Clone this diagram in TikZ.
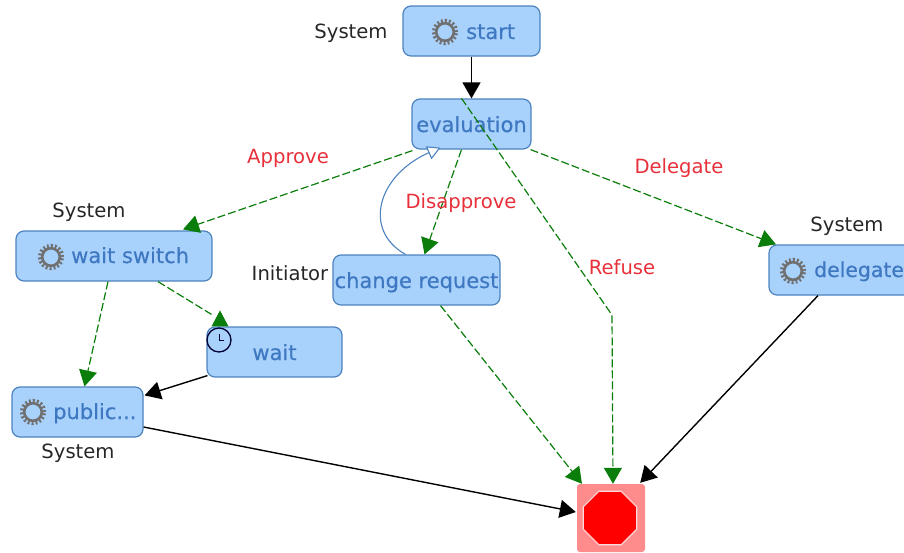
\documentclass[tikz,border=0pt]{standalone}
\usepackage{fontspec}
\setmainfont{DejaVu Sans}
\newfontfamily\boxfont[FakeBold=0.4]{DejaVu Sans}
\usetikzlibrary{arrows.meta,calc,shapes.geometric}
\definecolor{boxfill}{HTML}{A8D1FB}
\definecolor{boxline}{HTML}{4C83C0}
\definecolor{boxtext}{HTML}{3F78C2}
\definecolor{edgegreen}{HTML}{0A7D0A}
\definecolor{labred}{HTML}{E8303A}
\definecolor{gearcol}{HTML}{707070}
\tikzset{
  task/.style={draw=boxline,line width=1.2pt,fill=boxfill,rounded corners=8pt,minimum height=50pt,inner sep=0pt,text=boxtext,text height=20pt,text depth=4pt,font=\boxfont\fontsize{21}{23}\selectfont},
  tasktext/.style={inner sep=0pt,anchor=west,text=boxtext,text height=20pt,text depth=4pt,font=\boxfont\fontsize{21}{23}\selectfont},
  lab/.style={inner sep=0pt,text=black!85,font=\fontsize{19.6}{21}\selectfont},
  redlab/.style={inner sep=0pt,text=labred,font=\fontsize{19.6}{21}\selectfont},
  flow/.style={draw=black,line width=1.4pt,-{Triangle[length=16pt,width=18pt]}},
  cond/.style={draw=edgegreen,line width=1.2pt,dash pattern=on 8pt off 3pt,-{Triangle[length=16pt,width=18pt,fill=edgegreen]}},
  condplain/.style={draw=edgegreen,line width=1.2pt,dash pattern=on 8pt off 3pt},
  gear/.pic={
    \draw[gearcol,line width=3.6pt,dash pattern=on 1.9pt off 2.1pt] (0,0) circle (11.4pt);
    \draw[gearcol,line width=2.6pt,fill=boxfill] (0,0) circle (8.8pt);
  }
}
\begin{document}
\begin{tikzpicture}[x=1pt,y=-1pt]
\useasboundingbox (0,0) rectangle (904,552);
\node[task,minimum width=137pt] (start) at (471.5,31) {};
\node[task,minimum width=119pt] (eval) at (471.5,124) {evaluation};
\node[task,minimum width=196pt] (switch) at (114,256) {};
\node[task,minimum width=167pt] (change) at (416.5,280) {change request};
\node[task,minimum width=150pt] (delegate) at (844,270) {};
\node[task,minimum width=135pt] (wait) at (274.5,352) {wait};
\node[task,minimum width=131pt] (public) at (77.5,412) {};

\pic at (445,32) {gear};
\node[tasktext] (tstart) at (466,31) {start};
\pic at (51,257) {gear};
\node[tasktext] (tswitch) at (71,255) {wait switch};
\pic at (793,271) {gear};
\node[tasktext,font=\boxfont\fontsize{20.4}{23}\selectfont] (tdelegate) at (814,269) {delegate};
\pic at (33,412) {gear};
\node[tasktext] (tpublic) at (53,411) {public...};

\node[lab] (l1) at (351,33) {System};
\node[lab] (l2) at (89,212) {System};
\node[lab] (l3) at (847,226) {System};
\node[lab] (l4) at (290,273) {Initiator};
\node[lab] (l5) at (78,453) {System};

% stop symbol
\node[draw=none,fill=red!45!white,rounded corners=3pt,minimum size=68pt,inner sep=0pt] (stop) at (611,518) {};
\node[regular polygon,regular polygon sides=8,draw=red!15!white,line width=1.2pt,fill=red,minimum size=58pt,inner sep=0pt] (octa) at (610,518) {};

% clock
\node[circle,draw=black!80!blue,line width=1.3pt,fill=boxfill,minimum size=24pt,inner sep=0pt] (clock) at (219,340) {};
\draw[black!80!blue,line width=0.9pt] (clock.center) ++(0,-6) -- (clock.center) -- ++(5,0);

% black flows
\draw[flow] (start.south) -- (eval.north);
\draw[flow] ([xshift=1pt,yshift=2pt]wait.south west) -- ([xshift=1pt,yshift=-9pt]public.north east);
\draw[flow] ([yshift=-15pt]public.east) -- ([yshift=6pt,xshift=-1pt]stop.west);
\draw[flow] ([xshift=-26pt]delegate.south) -- ([xshift=-5pt,yshift=1pt]stop.north east);

% green flows
\draw[cond] ([yshift=-1pt,xshift=1pt]eval.south west) -- ([xshift=69pt,yshift=1pt]switch.north);
\draw[cond] ([xshift=-10pt]eval.south) -- ([xshift=8pt]change.north);
\draw[cond] ([xshift=-10pt]eval.north) -- (612,315) -- ([xshift=2pt]stop.north);
\draw[cond] ([xshift=-1pt]eval.south east) -- ([xshift=-68pt]delegate.north);
\draw[cond] ([xshift=-6pt]switch.south) -- ([xshift=7pt]public.north);
\draw[condplain] ([xshift=44pt]switch.south) -- ([xshift=-63pt,yshift=12pt]wait.north);
\fill[edgegreen] ([xshift=-54.5pt,yshift=16pt]wait.north) -- ([xshift=-63pt]wait.north) -- ([xshift=-46pt]wait.north) -- cycle;
\draw[cond] ([xshift=24pt]change.south) -- ([xshift=-29pt]stop.north);

% blue return
\draw[draw=boxline,line width=1.1pt,-{Triangle[open,length=13pt,width=14pt,fill=white]}]
  ([xshift=-11pt]change.north) .. controls (362,230) and (378,175) .. ([xshift=-31pt,yshift=2pt]eval.south);

% red labels
\node[redlab] (r1) at (288,158.5) {Approve};
\node[redlab] (r2) at (461,203) {Disapprove};
\node[redlab] (r3) at (679,168) {Delegate};
\node[redlab] (r4) at (622,267) {Refuse};
\end{tikzpicture}
\end{document}
